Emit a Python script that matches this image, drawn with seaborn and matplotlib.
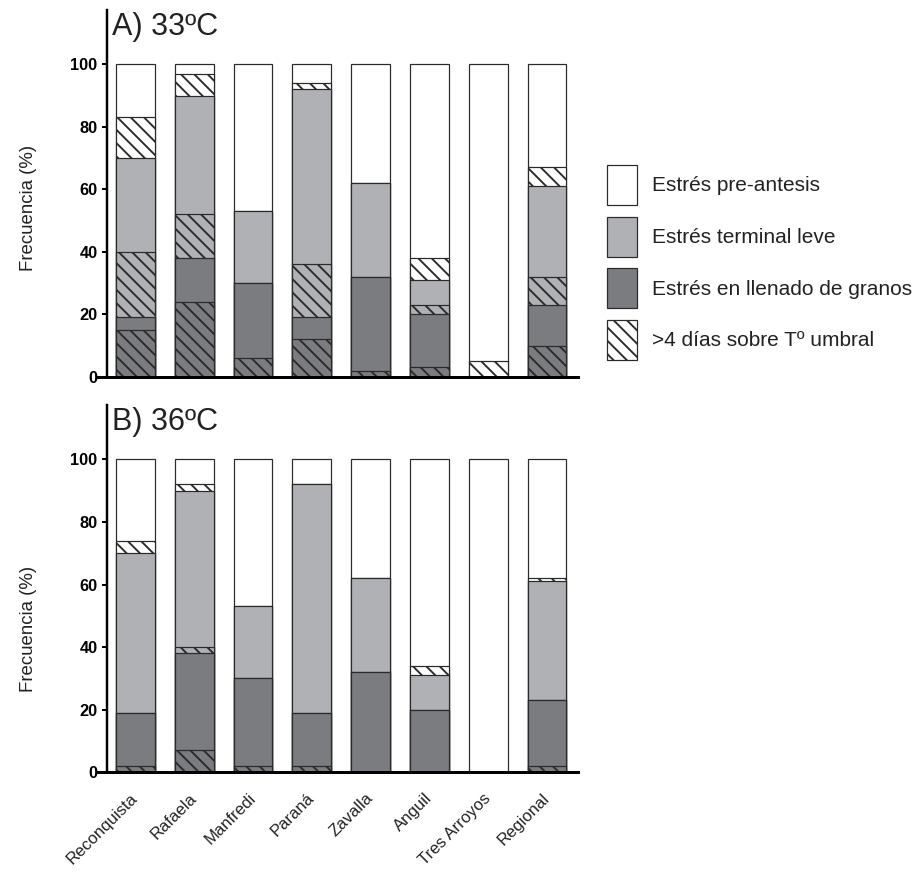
import matplotlib
matplotlib.use("Agg")
import matplotlib.pyplot as plt
from matplotlib.patches import Patch
import seaborn as sns
import pandas as pd

# Sites and stress-class frequencies (%), shared by both thresholds
sites = ["Reconquista", "Rafaela", "Manfredi", "Paraná", "Zavalla",
         "Anguil", "Tres Arroyos", "Regional"]
llenado = [19, 38, 30, 19, 32, 20, 0, 23]      # Estrés en llenado de granos
terminal = [51, 52, 23, 73, 30, 11, 0, 38]     # Estrés terminal leve
pre = [30, 10, 47, 8, 38, 69, 100, 39]         # Estrés pre-antesis

# Share of each class with >4 days above the threshold temperature
hot33_llenado = [15, 24, 6, 12, 2, 3, 0, 10]
hot33_terminal = [21, 14, 0, 17, 0, 3, 0, 9]
hot33_pre = [13, 7, 0, 2, 0, 7, 5, 6]

hot36_llenado = [2, 7, 2, 2, 0, 0, 0, 2]
hot36_terminal = [0, 2, 0, 0, 0, 0, 0, 0]
hot36_pre = [4, 2, 0, 0, 0, 3, 0, 1]

titles = ["A) 33ºC", "B) 36ºC"]
legend_labels = ["Estrés pre-antesis", "Estrés terminal leve",
                 "Estrés en llenado de granos", ">4 días sobre Tº umbral"]

WHITE = "#ffffff"
LIGHT = "#b0b1b5"
DARK = "#7b7c80"
EDGE = "#2a2a2a"
TXT = "#222222"
HATCH = "\\\\"

sns.set_style("ticks")
plt.rcParams["font.family"] = ["Liberation Sans", "DejaVu Sans"]
plt.rcParams["hatch.linewidth"] = 1.7

DPI = 80
fig = plt.figure(figsize=(914 / DPI, 872 / DPI), dpi=DPI)
ax_a = fig.add_axes([0.1061, 0.5679, 0.5263, 0.4206])
ax_b = fig.add_axes([0.1061, 0.1143, 0.5263, 0.4213])

BAR_W = 0.66
LW = 1.1


def stacked(ax, hot_ll, hot_te, hot_pre):
    top_ll = llenado
    top_te = [a + b for a, b in zip(llenado, terminal)]
    top_pre = [a + b for a, b in zip(top_te, pre)]
    # Layers painted from the top of each stack downwards; every layer
    # starts at zero and hides what lies under it.
    layers = [
        (top_pre, WHITE, None),
        ([t + h for t, h in zip(top_te, hot_pre)], WHITE, HATCH),
        (top_te, LIGHT, None),
        ([t + h for t, h in zip(top_ll, hot_te)], LIGHT, HATCH),
        (top_ll, DARK, None),
        (hot_ll, DARK, HATCH),
    ]
    for heights, col, hatch in layers:
        df = pd.DataFrame({"site": sites, "freq": heights})
        kw = dict(hatch=hatch) if hatch else {}
        sns.barplot(data=df, x="site", y="freq", order=sites, color=col,
                    saturation=1, width=BAR_W, edgecolor=EDGE, linewidth=LW,
                    errorbar=None, ax=ax, **kw)


for ax, hot, title, lab_y in [
    (ax_a, (hot33_llenado, hot33_terminal, hot33_pre), titles[0], 0.46),
    (ax_b, (hot36_llenado, hot36_terminal, hot36_pre), titles[1], 0.39),
]:
    stacked(ax, *hot)
    ax.set_xlim(-0.655, 7.526)
    ax.set_ylim(0, 117.4)
    ax.set_yticks([0, 20, 40, 60, 80, 100])
    ax.spines["left"].set_position(("data", -0.485))
    ax.spines["left"].set_linewidth(2.2)
    ax.spines["bottom"].set_linewidth(2.7)
    ax.spines["left"].set_color("black")
    ax.spines["bottom"].set_color("black")
    sns.despine(ax=ax)
    ax.tick_params(axis="y", length=4.5, width=1.8, color="black", pad=4,
                   labelsize=14.7, labelcolor="black")
    for t in ax.get_yticklabels():
        t.set_fontweight("bold")
    ax.tick_params(axis="x", length=0)
    ax.set_xlabel("")
    ax.set_ylabel("Frecuencia (%)", fontsize=16.8, color=TXT)
    ax.yaxis.set_label_coords(-0.125, lab_y)
    ax.text(-0.40, 109.5, title, fontsize=27.5, color=TXT, ha="left",
            va="baseline")

ax_a.set_xticklabels([])
ax_b.set_xticks(range(len(sites)))
ax_b.set_xticklabels(sites, rotation=45, ha="right", va="center",
                     rotation_mode="anchor", fontsize=15, color=TXT)
ax_b.tick_params(axis="x", pad=21)

handles = [
    Patch(facecolor=WHITE, edgecolor=EDGE, linewidth=LW),
    Patch(facecolor=LIGHT, edgecolor=EDGE, linewidth=LW),
    Patch(facecolor=DARK, edgecolor=EDGE, linewidth=LW),
    Patch(facecolor=WHITE, edgecolor=EDGE, linewidth=LW, hatch=HATCH),
]
fig.legend(handles, legend_labels, loc="upper left",
           bbox_to_anchor=(607 / 914, 1 - 165 / 872), frameon=False,
           fontsize=18.8, handlelength=1.435, handleheight=2.568,
           labelspacing=0.56, handletextpad=0.72, borderpad=0,
           borderaxespad=0, labelcolor=TXT)

fig.savefig("out.png", dpi=DPI)
